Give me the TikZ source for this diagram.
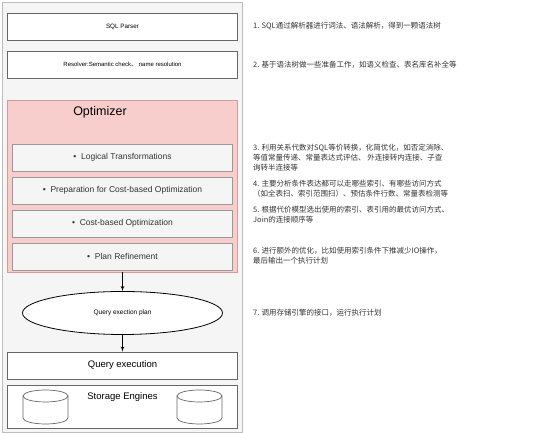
\documentclass[tikz,border=0pt]{standalone}
\usepackage{fontspec}
\setmainfont{Liberation Sans}
\newfontfamily\cjk{Noto Sans CJK SC}
\usepackage{xcolor}
\usepackage{tikz}
\usetikzlibrary{shapes,arrows,positioning,fit,backgrounds}
\definecolor{panelgray}{HTML}{F5F5F5}
\definecolor{panelline}{HTML}{BDBDBD}
\definecolor{optfill}{HTML}{F8CECC}
\definecolor{optline}{HTML}{D39C9B}
\definecolor{boxline}{HTML}{666666}
\definecolor{subline}{HTML}{999999}
\definecolor{notegray}{HTML}{333333}
\tikzstyle{line} = [draw, line width=0.7pt, -latex']
\tikzset{
    stage/.style={draw=boxline, fill=white, line width=0.8pt, minimum width=230pt, minimum height=27pt, inner sep=0pt},
    substage/.style={draw=subline, fill=panelgray, line width=0.8pt, minimum width=220pt, minimum height=27pt, inner sep=0pt, text=notegray, font=\fontsize{8.5}{10}\selectfont},
    note/.style={anchor=west, align=left, inner sep=0pt, text=notegray, font=\cjk\fontsize{7.5}{9.8}\selectfont}
}

\begin{document}
\begin{tikzpicture}[x=1pt,y=1pt]
            \useasboundingbox (0,0) rectangle (550,433);

            % Draw the outer panel
            \draw[draw=panelline, fill=panelgray, line width=0.8pt] (2,1) rectangle (242,431);

            % Parser and resolver
            \node[stage, font=\fontsize{6.3}{8}\selectfont] (parser) at (122.5,406.5) {SQL Parser};
            \node[stage, font=\fontsize{6}{8}\selectfont] (resolver) at (122.5,368.5) {Resolver:Semantic check{\cjk 、} name resolution};

            % Optimizer with its four steps
            \node[draw=optline, fill=optfill, line width=0.8pt, minimum width=230pt, minimum height=172pt, inner sep=0pt] (optimizer) at (122.5,247) {};
            \node[font=\fontsize{12.5}{14}\selectfont] (opttitle) at (100,321) {Optimizer};
            \node[substage] (logical) at (122.5,275.5) {•\ \ Logical Transformations};
            \node[substage] (costprep) at (122.5,242.5) {•\ \ Preparation for Cost-based Optimization};
            \node[substage] (costopt) at (122.5,209.5) {•\ \ Cost-based Optimization};
            \node[substage] (refine) at (122.5,176.5) {•\ \ Plan Refinement};

            % Execution plan and execution
            \node[ellipse, draw, fill=white, line width=0.8pt, minimum width=200pt, minimum height=43pt, inner sep=0pt, font=\fontsize{6.5}{8}\selectfont] (plan) at (122.5,120) {Query exection plan};
            \node[stage, font=\fontsize{9.5}{11}\selectfont] (execution) at (122.5,67.5) {Query execution};

            % Storage engines
            \node[stage, minimum height=43pt] (storage) at (122.5,26.5) {};
            \node[font=\fontsize{9.5}{11}\selectfont] (storagetitle) at (122.5,36) {Storage Engines};
            \draw[fill=white, line width=0.7pt, draw=boxline] (23,37) -- (23,15) arc[start angle=180, end angle=360, x radius=22.5, y radius=6] -- (68,37) arc[start angle=0, end angle=180, x radius=22.5, y radius=6] -- cycle;
            \draw[line width=0.7pt, draw=boxline] (23,37) arc[start angle=180, end angle=360, x radius=22.5, y radius=6];
            \draw[fill=white, line width=0.7pt, draw=boxline] (177,37) -- (177,15) arc[start angle=180, end angle=360, x radius=22.5, y radius=6] -- (222,37) arc[start angle=0, end angle=180, x radius=22.5, y radius=6] -- cycle;
            \draw[line width=0.7pt, draw=boxline] (177,37) arc[start angle=180, end angle=360, x radius=22.5, y radius=6];

            % Connectors
            \path[line] (optimizer.south) -- (plan.north);
            \path[line] (plan.south) -- (execution.north);

            % Notes on the right
            \node[note] (note1) at (253,406.5) {1. SQL通过解析器进行词法、语法解析，得到一颗语法树};
            \node[note] (note2) at (253,368.5) {2. 基于语法树做一些准备工作，如语义检查、表名库名补全等};
            \node[note] (note3) at (253,275.5) {3. 利用关系代数对SQL等价转换，化简优化，如否定消除、\\等值常量传递、常量表达式评估、 外连接转内连接、子查\\询转半连接等};
            \node[note] (note4) at (253,244) {4. 主要分析条件表达都可以走哪些索引、有哪些访问方式\\（如全表扫、索引范围扫）、预估条件行数、常量表检测等};
            \node[note] (note5) at (253,218) {5. 根据代价模型选出使用的索引、表引用的最优访问方式、\\Join的连接顺序等};
            \node[note] (note6) at (253,177) {6. 进行额外的优化，比如使用索引条件下推减少IO操作，\\最后输出一个执行计划};
            \node[note] (note7) at (253,120) {7. 调用存储引擎的接口，运行执行计划};
        \end{tikzpicture}
\end{document}
